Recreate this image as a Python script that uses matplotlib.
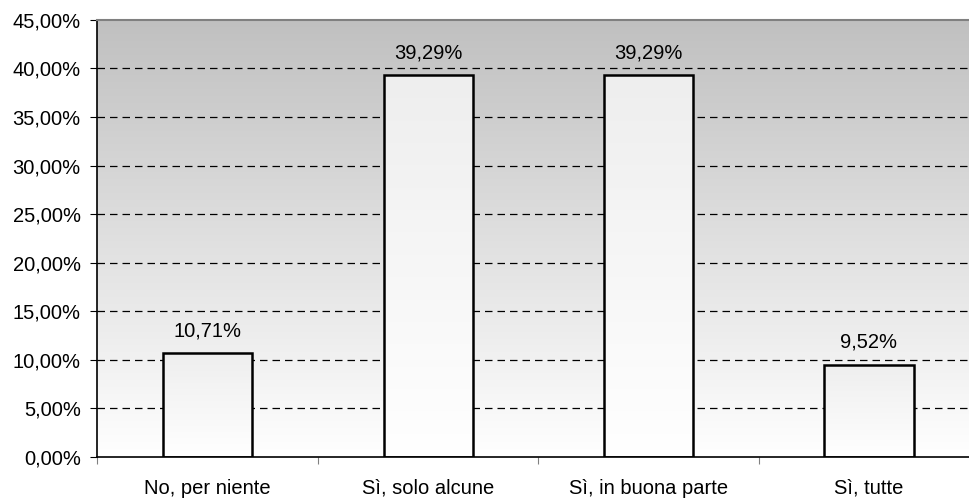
import matplotlib
matplotlib.use('Agg')
from matplotlib import pyplot as plt
from matplotlib.ticker import FuncFormatter
from matplotlib.colors import LinearSegmentedColormap
import numpy as np

categories = ['No, per niente', 'Sì, solo alcune', 'Sì, in buona parte', 'Sì, tutte']
values = [10.71, 39.29, 39.29, 9.52]
y_ticks = [0, 5, 10, 15, 20, 25, 30, 35, 40, 45]

plt.rcParams['font.family'] = ['Liberation Sans', 'DejaVu Sans']
plt.rcParams['font.size'] = 14.5

fig = plt.figure(figsize=(9.7, 4.99), dpi=100)
# l'area del grafico esce un po' a destra, come nell'originale
ax = fig.add_axes([0.1005, 0.0842, 0.909, 0.876])

x = np.arange(len(categories))
ax.set_xlim(-0.5, len(categories) - 0.5)
ax.set_ylim(0, 45)

# sfondo sfumato grigio -> bianco
grad = np.linspace(0, 1, 256).reshape(-1, 1)
bg_cmap = LinearSegmentedColormap.from_list('bg', ['#ffffff', '#c0c0c0'])
ax.imshow(grad, cmap=bg_cmap, aspect='auto', origin='lower',
          extent=[-0.5, len(categories) - 0.5, 0, 45], zorder=0)

# griglia tratteggiata
for t in y_ticks[1:-1]:
    ax.axhline(t, color='black', linestyle=(0, (6, 4)), linewidth=0.9, zorder=1)

bars = ax.bar(x, values, width=0.404, facecolor='none', edgecolor='black',
              linewidth=1.8, zorder=3)
bar_cmap = LinearSegmentedColormap.from_list('bar', ['#ffffff', '#eeeeee'])
for b in bars:
    im = ax.imshow(grad, cmap=bar_cmap, aspect='auto', origin='lower',
                   extent=[b.get_x(), b.get_x() + b.get_width(), 0, b.get_height()],
                   zorder=2)
    im.set_clip_path(b)

for xi, v in zip(x, values):
    ax.text(xi, v + 1.3, f'{v:.2f}%'.replace('.', ','), ha='center', va='bottom')

# etichette categorie sulla stessa linea di base
for xi, c in zip(x, categories):
    ax.text(xi, -0.084, c, transform=ax.get_xaxis_transform(),
            ha='center', va='baseline', clip_on=False)

ax.set_yticks(y_ticks)
ax.yaxis.set_major_formatter(FuncFormatter(lambda v, p: f'{v:.2f}%'.replace('.', ',')))
ax.set_xticks(np.arange(-0.5, len(categories), 1.0))
ax.set_xticklabels([])
ax.tick_params(axis='x', length=5, color='#808080')
ax.tick_params(axis='y', length=5, pad=7)

ax.spines['top'].set_color('#808080')
ax.spines['top'].set_linewidth(1.5)
ax.spines['right'].set_visible(False)
ax.spines['left'].set_linewidth(1.2)
ax.spines['bottom'].set_linewidth(1.2)

plt.savefig('out.png', dpi=100)
